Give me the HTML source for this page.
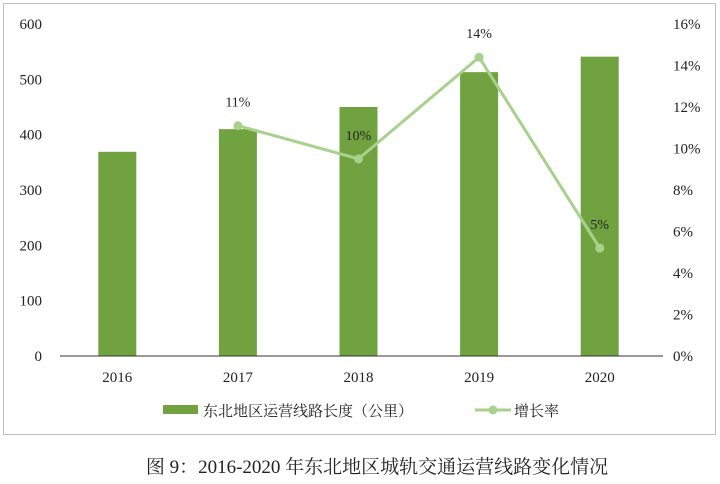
<!DOCTYPE html>
<html><head><meta charset="utf-8">
<style>
body{margin:0;background:#fff;width:720px;height:479px;overflow:hidden}
text{font-family:"Liberation Serif","Noto Serif CJK SC",serif}
</style></head>
<body>
<svg id="c" width="720" height="479" xmlns="http://www.w3.org/2000/svg">
<rect x="3.5" y="3.5" width="712" height="431" fill="#fff" stroke="#bfbfbf"/>
<g id="g"></g>
<text x="377" y="473" font-size="19" text-anchor="middle" fill="#222">图 9：2016-2020 年东北地区城轨交通运营线路变化情况</text>
</svg>
<script>
const categories=["2016","2017","2018","2019","2020"];
const lengths=[369,410,450,513,541];
const growth=[null,11.1,9.5,14.4,5.2];
const growthLabels=["","11%","10%","14%","5%"];
const leftTicks=[0,100,200,300,400,500,600];
const rightTicks=[0,2,4,6,8,10,12,14,16];
const NS="http://www.w3.org/2000/svg";
const g=document.getElementById('g');
const L=60,R=663,T=24,B=356;
const yL=v=>B-(v/600)*(B-T);
const yR=v=>B-(v/16)*(B-T);
const step=(R-L)/categories.length;
const xC=i=>L+step*(i+0.5)-3;
function el(t,a,txt){const e=document.createElementNS(NS,t);for(const k in a)e.setAttribute(k,a[k]);if(txt!=null)e.textContent=txt;g.appendChild(e);return e;}
lengths.forEach((v,i)=>{const e=el('rect',{x:xC(i)-19,y:yL(v),width:38,height:B-yL(v),fill:'#70a33f'});

});
let ax=el('line',{x1:L,y1:B,x2:R,y2:B,stroke:'#333','stroke-width':1});


leftTicks.forEach(v=>{const t=el('text',{x:42,y:yL(v)+5,'font-size':15,'text-anchor':'end',fill:'#222'},v);

});
rightTicks.forEach(v=>{const t=el('text',{x:673,y:yR(v)+5,'font-size':15,fill:'#222'},v+'%');

});
categories.forEach((c,i)=>{const t=el('text',{x:xC(i),y:382,'font-size':15,'text-anchor':'middle',fill:'#222'},c);

});
let pts=[];growth.forEach((v,i)=>{if(v!=null)pts.push([xC(i),yR(v)]);});
let pl=el('polyline',{points:pts.map(p=>p.join(',')).join(' '),fill:'none',stroke:'#a9d18e','stroke-width':3});


growth.forEach((v,i)=>{if(v==null)return;
const c=el('circle',{cx:xC(i),cy:yR(v),r:4.5,fill:'#a9d18e'});


const t=el('text',{x:xC(i),y:yR(v)-19,'font-size':14,'text-anchor':'middle',fill:'#222'},growthLabels[i]);

});
let s1=el('rect',{x:163,y:405,width:35,height:9,fill:'#70a33f'});


let t1=el('text',{x:203,y:416,'font-size':15,fill:'#222'},'东北地区运营线路长度（公里）');


let s2=el('line',{x1:475,y1:410,x2:511,y2:410,stroke:'#a9d18e','stroke-width':3});


let s3=el('circle',{cx:493,cy:410,r:4.5,fill:'#a9d18e'});


let t2=el('text',{x:514,y:416,'font-size':15,fill:'#222'},'增长率');


</script>
</body></html>
